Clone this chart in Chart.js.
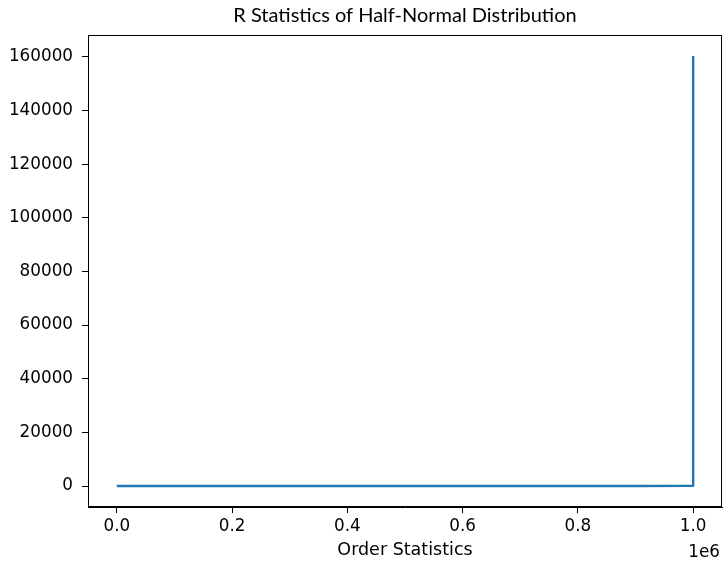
<!DOCTYPE html>
<html>
<head>
<meta charset="utf-8">
<script src="https://cdn.jsdelivr.net/npm/chart.js@4.4.0/dist/chart.umd.min.js"></script>
<style>
 html, body { margin: 0; padding: 0; background: #fff; }
 #wrap { width: 724px; height: 561px; }
</style>
</head>
<body>
<div id="wrap"><canvas id="rStatChart" width="724" height="561"></canvas></div>
<script>
// order statistic index (x) and R statistic (y)
var orderIndex = [1, 100000, 200000, 300000, 400000, 500000, 600000, 700000, 800000, 900000, 990000, 999000, 999900, 999990, 999999, 1000000];
var rStat = [1.0, 1.9, 2.6, 3.3, 4.0, 4.9, 6.0, 7.5, 9.8, 14.2, 38, 90, 210, 520, 1600, 160400];

var xTicks = [0, 200000, 400000, 600000, 800000, 1000000];
var yTicks = [0, 20000, 40000, 60000, 80000, 100000, 120000, 140000, 160000];

var tickFont = { family: "DejaVu Sans", size: 16.8 };

// matplotlib style box round the plot area + the 1e6 offset label
var frameBox = {
 id: "frameBox",
 afterDraw: function (chart) {
  var ctx = chart.ctx;
  var a = chart.chartArea;
  ctx.save();
  ctx.strokeStyle = "#000";
  ctx.lineWidth = 1;
  ctx.strokeRect(Math.round(a.left) + 0.5, Math.round(a.top) + 0.5, Math.round(a.right - a.left) - 1, Math.round(a.bottom - a.top) - 1);
  ctx.fillStyle = "#000";
  ctx.font = "16.8px 'DejaVu Sans'";
  ctx.textAlign = "right";
  ctx.textBaseline = "alphabetic";
  ctx.fillText("1e6", 720, 557);
  ctx.restore();
 },
};

var points = orderIndex.map(function (x, i) {
 return { x: x, y: rStat[i] };
});

new Chart(document.getElementById("rStatChart"), {
 type: "line",
 data: {
  datasets: [
   {
    data: points,
    borderColor: "#1f77b4",
    borderWidth: 2.4,
    pointRadius: 0,
    tension: 0,
    fill: false,
   },
  ],
 },
 options: {
  responsive: false,
  animation: false,
  layout: { padding: { left: 0, right: 2, top: 0, bottom: 0 } },
  plugins: {
   legend: { display: false },
   tooltip: { enabled: false },
   title: {
    display: true,
    fullSize: false,
    text: "R Statistics of Half-Normal Distribution",
    color: "#000",
    font: { family: "Lato", size: 20, weight: "normal" },
    padding: { top: 4, bottom: 7 },
   },
  },
  scales: {
   x: {
    type: "linear",
    min: -50000,
    max: 1050000,
    afterBuildTicks: function (scale) {
     scale.ticks = xTicks.map(function (v) { return { value: v }; });
    },
    afterFit: function (scale) { scale.height = 54; },
    ticks: {
     color: "#000",
     font: tickFont,
     padding: 4,
     maxRotation: 0,
     callback: function (v) { return (v / 1e6).toFixed(1); },
    },
    grid: { drawOnChartArea: false, drawTicks: true, tickLength: 6, color: "#000" },
    border: { display: true, color: "#000" },
    title: {
     display: true,
     text: "Order Statistics",
     color: "#000",
     font: { family: "DejaVu Sans", size: 17.5 },
     padding: { top: 0, bottom: 0 },
    },
   },
   y: {
    type: "linear",
    min: -7830,
    max: 168200,
    afterBuildTicks: function (scale) {
     scale.ticks = yTicks.map(function (v) { return { value: v }; });
    },
    afterFit: function (scale) { scale.width = 88; },
    ticks: {
     color: "#000",
     font: tickFont,
     padding: 9,
     callback: function (v) { return String(v); },
    },
    grid: { drawOnChartArea: false, drawTicks: true, tickLength: 6, color: "#000" },
    border: { display: true, color: "#000" },
   },
  },
 },
 plugins: [frameBox],
});
</script>
</body>
</html>
